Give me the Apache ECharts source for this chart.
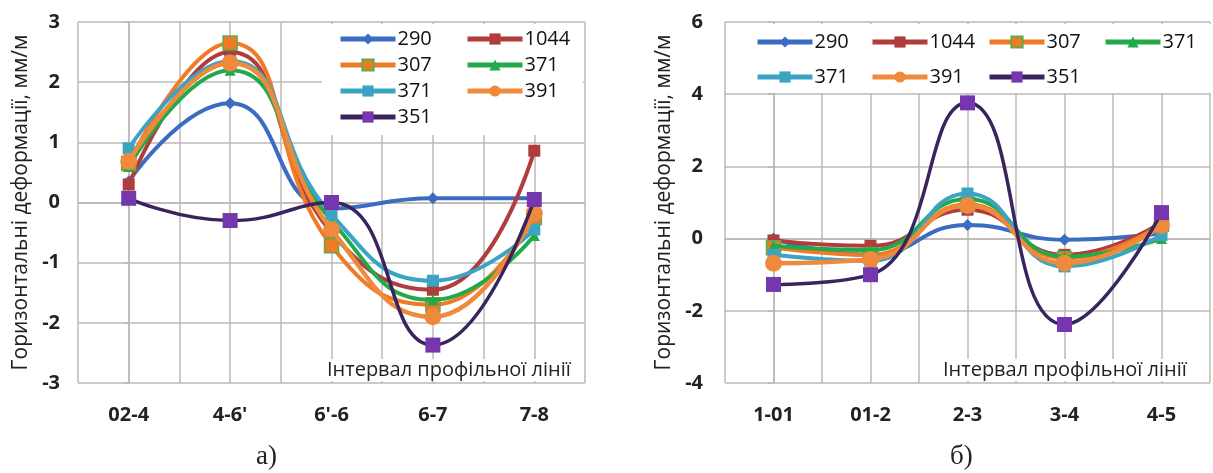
<!DOCTYPE html>
<html><head><meta charset="utf-8">
<script src="https://cdn.jsdelivr.net/npm/echarts@6/dist/echarts.min.js"></script>
<style>
html,body{margin:0;padding:0;background:#fff;width:1213px;height:473px;overflow:hidden}
#chartA{position:absolute;left:0;top:0;width:606px;height:473px}
#chartB{position:absolute;left:606px;top:0;width:607px;height:473px}
</style>
</head><body>
<div id="chartA"></div><div id="chartB"></div>
<script>
// ---------- DATA ----------
const seriesKeys   = ['s290', 's1044', 's307', 's371g', 's371c', 's391', 's351'];
const seriesLabels = ['290', '1044', '307', '371', '371', '391', '351'];

// Chart а)
const catsA = ['02-4', "4-6'", "6'-6", '6-7', '7-8'];
const a290  = [0.35, 1.65, -0.10, 0.07, 0.07];
const a1044 = [0.30, 2.50, -0.50, -1.45, 0.86];
const a307  = [0.65, 2.65, -0.72, -1.70, -0.25];
const a371g = [0.60, 2.20, -0.30, -1.62, -0.55];
const a371c = [0.90, 2.35, -0.20, -1.30, -0.45];
const a391  = [0.68, 2.32, -0.45, -1.90, -0.18];
const a351  = [0.07, -0.30, 0.00, -2.37, 0.05];
const ticksA = [-3, 3, 1];

// Chart б)
const catsB = ['1-01', '01-2', '2-3', '3-4', '4-5'];
const b290  = [0.00, -0.45, 0.38, -0.03, 0.15];
const b1044 = [-0.05, -0.20, 0.80, -0.45, 0.45];
const b307  = [-0.25, -0.45, 0.95, -0.55, 0.40];
const b371g = [-0.20, -0.32, 1.10, -0.50, 0.00];
const b371c = [-0.45, -0.62, 1.25, -0.77, 0.10];
const b391  = [-0.68, -0.58, 0.92, -0.68, 0.36];
const b351  = [-1.27, -1.00, 3.76, -2.38, 0.72];
const ticksB = [-4, 6, 2];

const yTitle = 'Горизонтальні деформації, мм/м';
const xTitle = 'Інтервал профільної лінії';

// ---------- STYLES ----------
const styles = {
  s290:  {line:'#3a6cc2', fill:'#3a6cc2', symbol:'diamond', size:12, width:4},
  s1044: {line:'#b03c3b', fill:'#b03c3b', symbol:'rect', size:12, width:4},
  s307:  {line:'#f07a26', fill:'#f07a26', border:'#5aac4c', symbol:'rect', size:14, width:4},
  s371g: {line:'#22aa4a', fill:'#22aa4a', symbol:'triangle', size:11, width:4},
  s371c: {line:'#3aa4c2', fill:'#3aa4c2', symbol:'rect', size:12, width:4},
  s391:  {line:'#ef8a3c', fill:'#ef8a3c', symbol:'circle', size:17, width:4.5},
  s351:  {line:'#3a2460', fill:'#7536ae', symbol:'rect', size:15, width:3.5}
};
const gridColor = '#bdb8b8';
const fontMain = "'Open Sans', 'DejaVu Sans', sans-serif";
const labelMap = {};
seriesKeys.forEach((k, i) => labelMap[k] = seriesLabels[i]);

function makeSeries(keys, dataArr) {
  return keys.map((k, i) => {
    const s = styles[k];
    return {
      type: 'line', name: k, data: dataArr[i], xAxisIndex: 0, yAxisIndex: 0,
      smooth: 0.5, symbol: s.symbol, symbolSize: s.size,
      lineStyle: {color: s.line, width: s.width},
      itemStyle: {color: s.fill, borderColor: s.border || s.fill, borderWidth: s.border ? 1.5 : 0},
      emphasis: {disabled: true}, z: 2 + i * 0.01
    };
  });
}

function makeLegend(names, left, top, gap) {
  return {
    orient: 'vertical', left: left, top: top, padding: 0,
    itemWidth: 55, itemHeight: 14, itemGap: gap,
    data: names, selectedMode: false,
    lineStyle: {width: 5},
    formatter: n => labelMap[n],
    textStyle: {fontFamily: fontMain, fontSize: 20, color: '#111', padding: [0, 0, 0, -3]}
  };
}

function buildOption(cfg) {
  return {
    animation: false,
    backgroundColor: '#fff',
    grid: cfg.grid,
    title: [
      {text: xTitle, left: cfg.xTitleLeft, top: 359, padding: [1, 3, 1, 3], backgroundColor: '#fff',
       textStyle: {fontFamily: fontMain, fontSize: 20, fontWeight: 'normal', color: '#222'}},
      {text: cfg.caption, left: cfg.captionLeft, top: 443, padding: 0,
       textStyle: {fontFamily: "'Liberation Serif', 'DejaVu Serif', serif", fontSize: 27, fontWeight: 'normal', color: '#222'}}
    ],
    legend: cfg.legends,
    graphic: [{type: 'rect', z: 1, shape: cfg.legendBox, style: {fill: '#fff'}}],
    xAxis: [
      {type: 'category', data: cfg.cats, boundaryGap: true,
       axisLine: {show: true, lineStyle: {color: gridColor, width: 1.5}},
       axisTick: {show: false}, splitLine: {show: false},
       axisLabel: {margin: 22, fontFamily: fontMain, fontSize: 20, fontWeight: 'bold', color: '#222'}},
      {type: 'value', min: -0.5, max: cfg.cats.length - 0.5, interval: 0.5, position: 'bottom',
       axisLine: {show: false}, axisTick: {show: false}, axisLabel: {show: false},
       splitLine: {show: true, lineStyle: {color: gridColor, width: 1.5}}}
    ],
    yAxis: {
      type: 'value', min: cfg.ticks[0], max: cfg.ticks[1], interval: cfg.ticks[2],
      name: yTitle, nameLocation: 'middle', nameGap: cfg.nameGap,
      nameTextStyle: {fontFamily: fontMain, fontSize: 21, color: '#222'},
      axisLine: {show: true, lineStyle: {color: gridColor, width: 1.5}},
      axisTick: {show: true, length: 6, lineStyle: {color: gridColor, width: 1.5}},
      splitLine: {show: true, lineStyle: {color: gridColor, width: 1.5}},
      axisLabel: {margin: cfg.labelMargin, fontFamily: fontMain, fontSize: 20, fontWeight: 'bold', color: '#222'}
    },
    series: makeSeries(seriesKeys, cfg.data)
  };
}

const chartA = echarts.init(document.getElementById('chartA'), null, {renderer: 'canvas'});
chartA.setOption(buildOption({
  cats: catsA, ticks: ticksA,
  data: [a290, a1044, a307, a371g, a371c, a391, a351],
  grid: {left: 78, right: 21, top: 22, bottom: 90},
  nameGap: 45, labelMargin: 18,
  xTitleLeft: 324, caption: 'а)', captionLeft: 256,
  legendBox: {x: 322, y: 24, width: 261, height: 111},
  legends: [
    makeLegend(['s290', 's307', 's371c', 's351'], 338, 29, 6),
    makeLegend(['s1044', 's371g', 's391'], 465, 29, 6)
  ]
}));

const chartB = echarts.init(document.getElementById('chartB'), null, {renderer: 'canvas'});
chartB.setOption(buildOption({
  cats: catsB, ticks: ticksB,
  data: [b290, b1044, b307, b371g, b371c, b391, b351],
  grid: {left: 119, right: 3, top: 22, bottom: 90},
  nameGap: 49, labelMargin: 22,
  xTitleLeft: 334, caption: 'б)', captionLeft: 344,
  legendBox: {x: 139, y: 24, width: 470, height: 69},
  legends: [
    makeLegend(['s290', 's371c'], 149, 32, 15),
    makeLegend(['s1044', 's391'], 264, 32, 15),
    makeLegend(['s307', 's351'], 381, 32, 15),
    makeLegend(['s371g'], 497, 32, 15)
  ]
}));
</script>
</body></html>
